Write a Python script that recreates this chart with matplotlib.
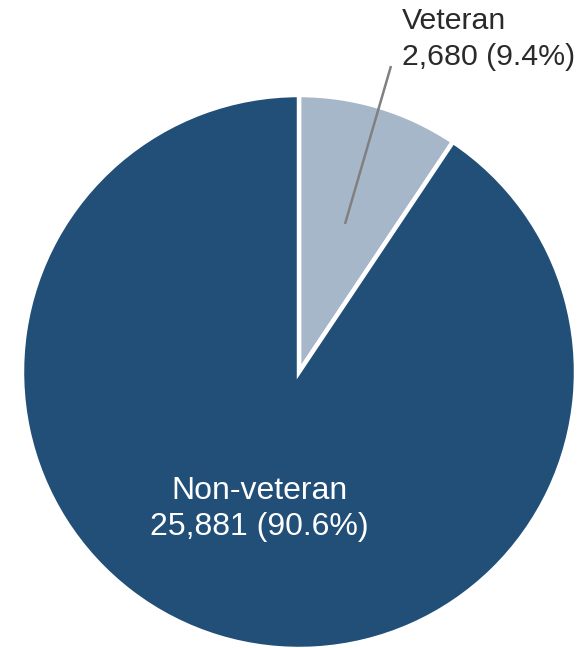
import matplotlib
matplotlib.use("Agg")
import matplotlib.pyplot as plt

categories = ["Veteran", "Non-veteran"]
counts = [2680, 25881]
percents = [9.4, 90.6]
colors = ["#A7B7CA", "#214F78"]

plt.rcParams['font.family'] = ['Liberation Sans', 'DejaVu Sans']

W, H = 582, 648
fig = plt.figure(figsize=(W / 100, H / 100), dpi=100)
ax = fig.add_axes([0, 0, 1, 1])

cx, cy, r = 299, H - 372, 277
ax.pie(counts, colors=colors, startangle=90, counterclock=False,
       center=(cx, cy), radius=r,
       wedgeprops=dict(edgecolor='white', linewidth=3.2), frame=True)
ax.set_xlim(0, W)
ax.set_ylim(0, H)
ax.set_aspect('equal')
ax.axis('off')

labels = [f"{c}\n{n:,} ({p}%)" for c, n, p in zip(categories, counts, percents)]

# Veteran label with leader line
ax.plot([345, 391], [H - 224, H - 66], color='#808080', linewidth=1.8,
        solid_capstyle='butt')
ax.text(402, H - 39, labels[0], ha='left', va='center', fontsize=21.8,
        color='#2a2a2a', linespacing=1.35)

# Non-veteran label
ax.text(259, H - 509, labels[1], ha='center', va='center', fontsize=23,
        color='white', linespacing=1.3)

fig.savefig("out.png", dpi=100, facecolor='white')
